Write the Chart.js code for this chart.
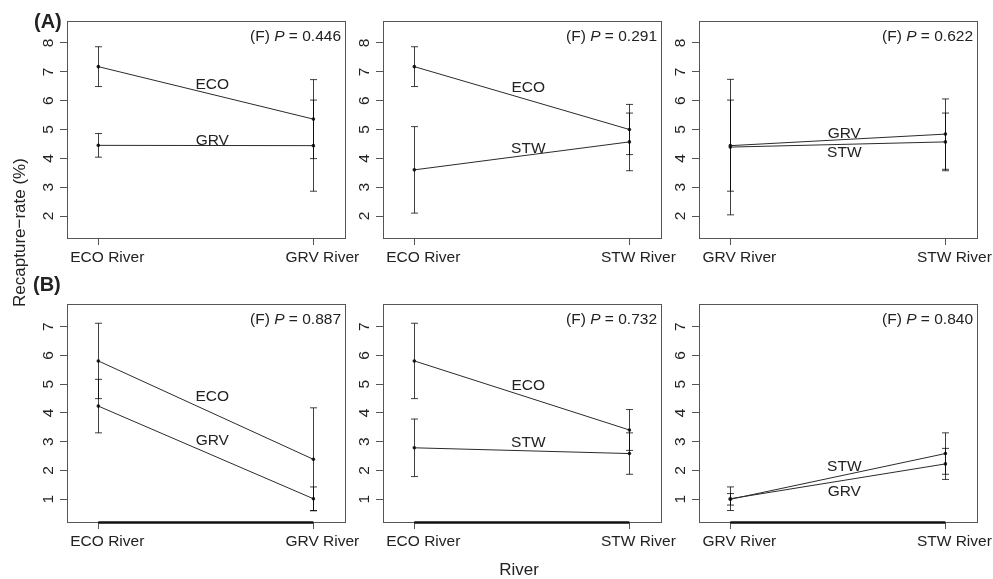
<!DOCTYPE html>
<html>
<head>
<meta charset="utf-8">
<script src="https://cdn.jsdelivr.net/npm/chart.js@4.4.1/dist/chart.umd.min.js"></script>
<style>
  body { margin: 0; background: #fff; }
  #fig { position: relative; width: 993px; height: 579px; overflow: hidden; font-family: "Liberation Sans", Arial, sans-serif; color: #222; }
  #fig canvas { position: absolute; }
  .tag { position: absolute; font-weight: bold; font-size: 20px; line-height: 20px; }
  .title { position: absolute; font-size: 17px; line-height: 17px; text-align: center; }
</style>
</head>
<body>
<div id="fig">
  <canvas id="a1"></canvas>
  <canvas id="a2"></canvas>
  <canvas id="a3"></canvas>
  <canvas id="b1"></canvas>
  <canvas id="b2"></canvas>
  <canvas id="b3"></canvas>
  <div class="tag" style="left:34px; top:11px;">(A)</div>
  <div class="tag" style="left:33px; top:274px;">(B)</div>
  <div class="title" style="left:-81px; top:224px; width:200px; transform:rotate(-90deg);">Recapture−rate (%)</div>
  <div class="title" style="left:469px; top:561px; width:100px;">River</div>
</div>
<script>
// rivers on the x axis of each column, and the two groups drawn in it
const rivers = [['ECO River', 'GRV River'], ['ECO River', 'STW River'], ['GRV River', 'STW River']];
const groups = [['ECO', 'GRV'], ['ECO', 'STW'], ['GRV', 'STW']];

const yTicksA = [2, 3, 4, 5, 6, 7, 8];
const yTicksB = [1, 2, 3, 4, 5, 6, 7];

// means [group][river] and half-widths of the error bars
const meanA1 = [[7.18, 5.36], [4.45, 4.44]];
const errA1  = [[0.69, 1.37], [0.41, 1.58]];
const meanA2 = [[7.18, 5.00], [3.60, 4.57]];
const errA2  = [[0.69, 0.87], [1.50, 1.00]];
const meanA3 = [[4.44, 4.84], [4.39, 4.57]];
const errA3  = [[1.58, 1.22], [2.35, 1.00]];

const meanB1 = [[5.81, 2.39], [4.24, 1.02]];
const errB1  = [[1.31, 1.79], [0.93, 0.41]];
const meanB2 = [[5.81, 3.41], [2.79, 2.59]];
const errB2  = [[1.31, 0.71], [1.00, 0.72]];
const meanB3 = [[1.02, 2.23], [1.00, 2.59]];
const errB3  = [[0.41, 0.54], [0.20, 0.72]];

const pA = ['0.446', '0.291', '0.622'];
const pB = ['0.887', '0.732', '0.840'];

// where the group names sit (y in data units)
const labelYA = [[6.54, 4.61], [6.45, 4.35], [4.87, 4.20]];
const labelYB = [[4.57, 3.03], [4.95, 2.95], [1.26, 2.13]];

const FONT = '"Liberation Sans", Arial, sans-serif';
Chart.defaults.font.family = FONT;
Chart.defaults.color = '#222';

function overlay(p) {
  return {
    id: 'overlay',
    afterDraw(chart) {
      const { ctx, chartArea: a, scales: { x, y } } = chart;
      ctx.save();

      // error bars
      ctx.strokeStyle = 'rgba(0,0,0,0.75)';
      ctx.lineWidth = 1;
      p.means.forEach((row, g) => row.forEach((m, i) => {
        const px = Math.round(x.getPixelForValue(i + 1)) + 0.5;
        const hi = y.getPixelForValue(m + p.errs[g][i]);
        const lo = y.getPixelForValue(m - p.errs[g][i]);
        ctx.beginPath();
        ctx.moveTo(px, hi); ctx.lineTo(px, lo);
        ctx.moveTo(px - 3.5, hi); ctx.lineTo(px + 3.5, hi);
        ctx.moveTo(px - 3.5, lo); ctx.lineTo(px + 3.5, lo);
        ctx.stroke();
      }));

      // plot box
      ctx.strokeStyle = '#555';
      ctx.strokeRect(a.left + 0.5, a.top + 0.5, a.right - a.left, a.bottom - a.top);

      if (p.thick) {
        ctx.strokeStyle = '#111';
        ctx.lineWidth = 2.5;
        ctx.beginPath();
        ctx.moveTo(x.getPixelForValue(1), a.bottom + 0.5);
        ctx.lineTo(x.getPixelForValue(2), a.bottom + 0.5);
        ctx.stroke();
      }

      // group names
      ctx.fillStyle = '#222';
      ctx.font = '15.5px ' + FONT;
      ctx.textAlign = 'center';
      ctx.textBaseline = 'middle';
      p.groups.forEach((g, i) => {
        ctx.fillText(g, x.getPixelForValue(1.53), y.getPixelForValue(p.labelY[i]));
      });

      // (F) P = ...
      const parts = [['(F) ', ''], ['P', 'italic '], [' = ' + p.pval, '']];
      ctx.textAlign = 'left';
      ctx.textBaseline = 'alphabetic';
      let w = 0;
      parts.forEach(([t, s]) => { ctx.font = s + '15.5px ' + FONT; w += ctx.measureText(t).width; });
      let tx = a.right - 4 - w;
      parts.forEach(([t, s]) => {
        ctx.font = s + '15.5px ' + FONT;
        ctx.fillText(t, tx, a.top + 20);
        tx += ctx.measureText(t).width;
      });
      ctx.restore();
    }
  };
}

function makePanel(id, left, top, height, col, means, errs, labelY, pval, yMin, yMax, yTicks, thick) {
  const W = 40 + 278 + 16, H = 4 + height + 40;
  const cv = document.getElementById(id);
  cv.width = W; cv.height = H;
  cv.style.left = (left - 40) + 'px';
  cv.style.top = (top - 4) + 'px';

  const datasets = means.map((row, g) => ({
    label: groups[col][g],
    data: row.map((m, i) => ({ x: i + 1, y: m })),
    borderColor: '#2a2a2a',
    borderWidth: 1,
    pointRadius: 1.8,
    pointBorderWidth: 0,
    pointBackgroundColor: '#222',
    tension: 0
  }));

  new Chart(cv, {
    type: 'line',
    data: { datasets },
    options: {
      responsive: false,
      animation: false,
      events: [],
      layout: { padding: { top: 4, right: 16, left: 0, bottom: 0 } },
      plugins: { legend: { display: false }, tooltip: { enabled: false } },
      scales: {
        x: {
          type: 'linear',
          min: 0.8544,
          max: 2.147,
          afterBuildTicks: s => { s.ticks = [{ value: 1 }, { value: 2 }]; },
          afterFit: s => { s.height = 40; s.paddingLeft = 0; s.paddingRight = 0; },
          ticks: {
            autoSkip: false,
            maxRotation: 0,
            padding: 3,
            labelOffset: 9,
            font: { size: 15.5 },
            callback: (v, i) => rivers[col][i]
          },
          grid: { display: true, drawOnChartArea: false, drawTicks: true, tickLength: 7, color: '#555' },
          border: { display: false }
        },
        y: {
          min: yMin,
          max: yMax,
          afterBuildTicks: s => { s.ticks = yTicks.map(v => ({ value: v })); },
          afterFit: s => { s.width = 40; s.paddingTop = 0; s.paddingBottom = 0; },
          ticks: {
            autoSkip: false,
            minRotation: 90,
            maxRotation: 90,
            crossAlign: 'center',
            padding: 7,
            font: { size: 15.5 },
            callback: v => v
          },
          grid: { display: true, drawOnChartArea: false, drawTicks: true, tickLength: 7, color: '#555' },
          border: { display: false }
        }
      }
    },
    plugins: [overlay({ means, errs, groups: groups[col], labelY, pval, thick })]
  });
}

const lefts = [67, 383, 699];
makePanel('a1', lefts[0], 21, 217, 0, meanA1, errA1, labelYA[0], pA[0], 1.237, 8.763, yTicksA, false);
makePanel('a2', lefts[1], 21, 217, 1, meanA2, errA2, labelYA[1], pA[1], 1.237, 8.763, yTicksA, false);
makePanel('a3', lefts[2], 21, 217, 2, meanA3, errA3, labelYA[2], pA[2], 1.237, 8.763, yTicksA, false);
makePanel('b1', lefts[0], 304, 218, 0, meanB1, errB1, labelYB[0], pB[0], 0.211, 7.789, yTicksB, true);
makePanel('b2', lefts[1], 304, 218, 1, meanB2, errB2, labelYB[1], pB[1], 0.211, 7.789, yTicksB, true);
makePanel('b3', lefts[2], 304, 218, 2, meanB3, errB3, labelYB[2], pB[2], 0.211, 7.789, yTicksB, true);
</script>
</body>
</html>
